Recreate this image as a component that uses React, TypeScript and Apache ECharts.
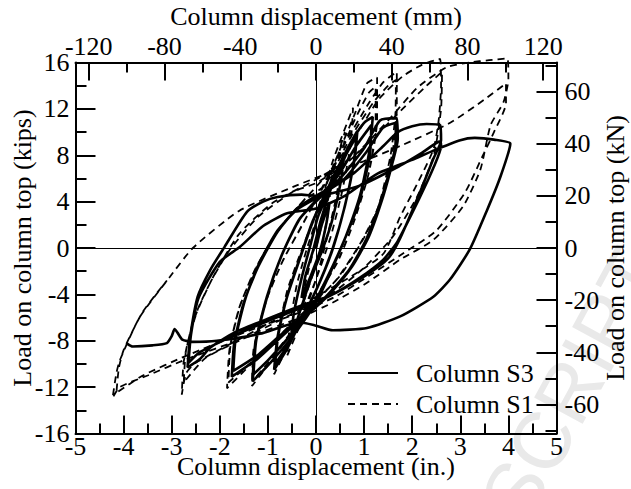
import React, { useEffect, useRef } from 'react';
import * as echarts from 'echarts';

// ---- axis definitions ----
const X_MIN_IN = -5;
const X_MAX_IN = 5;
const Y_MIN_KIP = -16;
const Y_MAX_KIP = 16;
const MM_PER_IN = 25.4;
const KN_PER_KIP = 4.448;
const TOP_MM_TICKS = [-120, -80, -40, 0, 40, 80, 120];
const TOP_MM_MINOR = [-100, -60, -20, 20, 60, 100];
const RIGHT_KN_TICKS = [-60, -40, -20, 0, 20, 40, 60];
const RIGHT_KN_MINOR = [-70, -50, -30, -10, 10, 30, 50, 70];

// ---- Column S3 (solid) : [displacement in., load kips] ----
const S3_CYCLE_1 = [[0, 0], [0.12, 2.0], [0.28, 3.9], [0.22, 2.2], [0.08, -0.3], [-0.1, -2.3], [-0.3, -4.3], [-0.22, -2.4], [-0.06, -0.2]];
const S3_CYCLE_2 = [[0.1, 2.4], [0.35, 5.6], [0.58, 8.1], [0.52, 5.8], [0.33, 2.3], [0.12, -0.3], [-0.12, -2.8], [-0.32, -5.3], [-0.52, -7.8], [-0.46, -5.6], [-0.3, -2.6], [-0.12, 0.2]];
const S3_CYCLE_3 = [[0.05, 2.8], [0.35, 5.6], [0.62, 8.3], [0.86, 10.1], [0.8, 7.6], [0.6, 3.6], [0.35, 0], [0.05, -3.2], [-0.3, -6.2], [-0.6, -8.7], [-0.87, -10.5], [-0.8, -7.7], [-0.6, -4.2], [-0.35, -1.1], [-0.1, 1.9], [0.1, 3.9]];
const S3_CYCLE_3B = [[0.35, 5.4], [0.62, 8.0], [0.84, 9.6], [0.78, 7.2], [0.58, 3.3], [0.33, -0.3], [0.03, -3.4], [-0.32, -6.3], [-0.62, -8.6], [-0.85, -10.0], [-0.78, -7.4], [-0.58, -3.9], [-0.33, -0.8], [-0.08, 2.2], [0.12, 4.0]];
const S3_CYCLE_4 = [[0.4, 6.5], [0.8, 9.6], [1.0, 10.8], [1.18, 11.3], [1.12, 8.6], [0.92, 4.6], [0.62, 1.0], [0.3, -2.1], [0, -4.7], [-0.5, -7.7], [-0.95, -9.9], [-1.32, -11.5], [-1.26, -8.2], [-1.02, -4.2], [-0.72, -0.7], [-0.36, 2.4], [0, 4.1]];
const S3_CYCLE_4B = [[0.45, 6.2], [0.85, 8.9], [1.15, 10.6], [1.12, 8.0], [0.9, 4.0], [0.58, 0.6], [0.25, -2.4], [-0.05, -4.8], [-0.55, -7.6], [-0.98, -9.6], [-1.3, -10.9], [-1.24, -7.9], [-1.0, -4.0], [-0.7, -0.5], [-0.34, 2.5], [0, 4.0]];
const S3_CYCLE_5 = [[0.5, 6.0], [1.0, 8.6], [1.33, 11.0], [1.68, 11.2], [1.7, 9.4], [1.6, 7.5], [1.4, 4.5], [1.1, 1.0], [0.75, -1.6], [0.3, -3.9], [0, -5.1], [-0.6, -7.2], [-1.2, -9.5], [-1.75, -11.1], [-1.7, -8.2], [-1.5, -4.7], [-1.2, -1.6], [-0.8, 1.4], [-0.4, 3.4], [0, 4.5]];
const S3_CYCLE_5B = [[0.55, 5.8], [1.05, 8.3], [1.4, 10.4], [1.66, 10.8], [1.65, 8.8], [1.5, 6.2], [1.3, 3.5], [1.05, 0.8], [0.7, -1.8], [0.25, -4.0], [0, -5.0], [-0.6, -7.0], [-1.2, -9.2], [-1.72, -10.6], [-1.67, -7.8], [-1.47, -4.4], [-1.18, -1.3], [-0.8, 1.5], [-0.4, 3.3], [0, 4.3]];
const S3_CYCLE_6 = [[0.8, 6.5], [1.4, 8.8], [1.7, 10.0], [2.0, 10.5], [2.3, 10.7], [2.58, 10.6], [2.6, 9.3], [2.44, 7.7], [2.17, 4.9], [1.75, 0.85], [1.5, -0.9], [1.06, -2.3], [0.35, -4.0], [-0.33, -5.0], [-1.0, -6.1], [-1.7, -7.3], [-2.2, -8.6], [-2.42, -9.6], [-2.67, -10.3], [-2.62, -7.8], [-2.46, -4.2], [-2.2, -1.9], [-1.9, 0.1], [-1.44, 3.1], [-1.1, 4.0], [-0.8, 4.4], [-0.3, 4.6], [0, 4.5]];
const S3_CYCLE_6B = [[0.92, 5.4], [1.75, 7.1], [2.2, 8.2], [2.58, 9.2], [2.6, 8.8], [2.45, 7.0], [2.15, 4.3], [1.7, 0.6], [1.4, -1.0], [0.9, -2.6], [0.3, -4.1], [-0.33, -5.2], [-1.0, -6.3], [-1.73, -7.6], [-2.42, -9.0], [-2.65, -9.9], [-2.6, -7.5], [-2.44, -4.3], [-2.0, -1.2], [-1.58, 0.1], [-1.1, 1.9], [-0.6, 3.0], [0, 3.4]];
const S3_CYCLE_7 = [[0.6, 4.5], [1.27, 6.4], [2.0, 7.6], [2.44, 8.4], [3.0, 9.3], [3.3, 9.5], [3.7, 9.35], [4.04, 9.0], [3.83, 6.1], [3.56, 3.3], [3.2, -0.1], [2.79, -2.7], [2.44, -4.2], [1.75, -5.9], [1.06, -6.9], [0.35, -7.1], [0, -6.7], [-0.33, -6.4], [-1.17, -7.4], [-2.06, -8.0], [-2.56, -8.1], [-2.78, -7.9], [-2.88, -7.3], [-2.94, -7.0], [-3.0, -7.6], [-3.1, -8.2], [-3.4, -8.4], [-3.81, -8.5], [-3.94, -8.2]];

// ---- Column S1 (dashed) ----
const S1_CYCLE_1 = [[0, 0], [0.15, 2.5], [0.3, 5.0], [0.25, 3.0], [0.1, -0.2], [-0.1, -2.7], [-0.3, -5.2], [-0.2, -2.7], [-0.05, -0.2]];
const S1_CYCLE_2 = [[0.15, 3.0], [0.35, 6.5], [0.6, 10.0], [0.55, 7.5], [0.4, 4.0], [0.2, 0.4], [0, -2.7], [-0.3, -6.3], [-0.6, -9.3], [-0.55, -6.8], [-0.4, -3.2], [-0.2, -0.2]];
const S1_CYCLE_3 = [[0.05, 3.0], [0.35, 7.5], [0.77, 12.1], [0.72, 9.0], [0.55, 5.0], [0.3, 0.9], [0, -2.7], [-0.4, -6.8], [-0.87, -10.9], [-0.8, -7.8], [-0.6, -3.7], [-0.3, -0.2]];
const S1_CYCLE_4 = [[0, 3.0], [0.4, 7.5], [0.8, 11.5], [1.06, 14.2], [1.27, 14.7], [1.27, 11.0], [1.1, 6.5], [0.8, 2.4], [0.45, -1.2], [0, -4.2], [-0.6, -7.8], [-1.0, -10.1], [-1.33, -11.9], [-1.3, -8.8], [-1.05, -4.7], [-0.7, -1.2], [-0.3, 1.9]];
const S1_CYCLE_4B = [[0.4, 7.2], [0.8, 11.0], [1.1, 13.4], [1.24, 13.9], [1.24, 10.5], [1.08, 6.2], [0.78, 2.2], [0.42, -1.4], [0, -4.3], [-0.6, -7.7], [-1.0, -9.9], [-1.3, -11.4], [-1.28, -8.5], [-1.03, -4.5], [-0.68, -1.0], [-0.28, 2.0]];
const S1_CYCLE_5 = [[0.1, 5.0], [0.6, 9.0], [1.1, 12.5], [1.4, 14.3], [1.68, 15.2], [1.68, 12.0], [1.6, 8.5], [1.35, 4.0], [1.0, 0.9], [0.5, -2.4], [0, -4.5], [-0.7, -7.3], [-1.3, -9.8], [-1.85, -12.1], [-1.8, -8.8], [-1.6, -5.2], [-1.25, -1.7], [-0.8, 1.4], [-0.3, 3.9]];
const S1_CYCLE_5B = [[0.2, 5.5], [0.7, 9.4], [1.2, 12.6], [1.5, 14.0], [1.66, 14.5], [1.65, 11.5], [1.55, 8.0], [1.3, 3.6], [0.95, 0.6], [0.45, -2.6], [0, -4.6], [-0.7, -7.4], [-1.3, -9.7], [-1.82, -11.6], [-1.78, -8.5], [-1.58, -5.0], [-1.22, -1.5], [-0.78, 1.6], [-0.28, 4.0]];
const S1_CYCLE_6 = [[0.2, 6.2], [0.8, 9.5], [1.3, 12.8], [1.8, 14.8], [2.2, 15.8], [2.58, 16.3], [2.6, 14.0], [2.55, 11.0], [2.44, 8.5], [2.1, 5.5], [1.75, 2.7], [1.4, -0.5], [0.71, -2.5], [0, -4.2], [-0.8, -6.1], [-1.7, -8.1], [-2.5, -9.9], [-2.7, -10.8], [-2.79, -12.65], [-2.75, -9.8], [-2.55, -6.3], [-2.2, -3.0], [-1.8, -0.2], [-1.2, 2.7], [-0.5, 4.8], [0, 5.6]];
const S1_CYCLE_6B = [[0.6, 7.2], [1.2, 9.5], [1.8, 12.0], [2.3, 14.0], [2.62, 15.2], [2.6, 12.0], [2.45, 8.0], [2.1, 4.4], [1.6, 1.0], [1.0, -1.7], [0.3, -4.0], [-0.5, -5.7], [-1.5, -7.8], [-2.3, -9.5], [-2.75, -11.6], [-2.7, -8.8], [-2.45, -5.2], [-2.1, -2.2], [-1.6, 1.2], [-0.9, 3.9], [0, 5.9]];
const S1_CYCLE_7 = [[0.8, 8.0], [1.5, 11.0], [2.1, 13.8], [2.72, 15.6], [3.2, 16.0], [3.6, 16.2], [3.98, 16.35], [4.0, 14.6], [3.9, 12.6], [3.63, 10.6], [3.42, 6.8], [3.06, 3.6], [2.44, 0.7], [1.75, -1.0], [1.06, -3.0], [0.35, -4.7], [-0.33, -6.0], [-1.5, -7.8], [-2.7, -9.6], [-3.5, -11.0], [-4.08, -12.0], [-4.23, -12.95], [-4.15, -10.8], [-4.08, -9.7], [-3.67, -6.0], [-3.04, -2.5], [-2.56, 0], [-1.6, 3.2], [-0.4, 5.4], [0.29, 6.5], [1.0, 7.5], [1.75, 8.8], [2.79, 10.8], [3.5, 12.8], [3.95, 14.2]];
const S1_CYCLE_7B = [[3.95, 12.5], [3.7, 10.0], [3.46, 7.9], [3.1, 4.8], [2.5, 1.5], [1.8, -0.5], [1.1, -2.4], [0.4, -4.2], [-0.3, -5.5], [-1.5, -7.3], [-2.7, -9.3], [-3.6, -11.0], [-4.15, -12.5], [-4.1, -10.4], [-4.0, -8.8], [-3.6, -5.5], [-3.1, -2.8]];

const S3_DATA = [
  ...S3_CYCLE_1, ...S3_CYCLE_2, ...S3_CYCLE_3, ...S3_CYCLE_3B, ...S3_CYCLE_4, ...S3_CYCLE_4B,
  ...S3_CYCLE_5, ...S3_CYCLE_5B, ...S3_CYCLE_6, ...S3_CYCLE_6B, ...S3_CYCLE_7,
];
const S1_DATA = [
  ...S1_CYCLE_1, ...S1_CYCLE_2, ...S1_CYCLE_3, ...S1_CYCLE_4, ...S1_CYCLE_4B, ...S1_CYCLE_5, ...S1_CYCLE_5B,
  ...S1_CYCLE_6, ...S1_CYCLE_6B, ...S1_CYCLE_7, ...S1_CYCLE_7B,
];

const SERIF = 'Liberation Serif, serif';
const BLACK = '#000';
const FS = 26;

const GRID = { left: 75.5, right: 74.5, top: 62.5, bottom: 55.5, containLabel: false, outerBoundsMode: 'none' };

const lbl = (extra: any) => ({ fontSize: FS, fontFamily: SERIF, color: BLACK, ...extra });

export default function App() {
  const ref = useRef<HTMLDivElement>(null);
  useEffect(() => {
    if (!ref.current) return;
    const chart = echarts.init(ref.current, undefined, { renderer: 'svg' });
    const axLine = { show: true, onZero: false, lineStyle: { color: BLACK, width: 2 } };
    const noLine = { show: false, onZero: false };
    const tick = (len: number, custom?: number[]) => ({
      show: true, inside: true, length: len, lineStyle: { color: BLACK, width: 2 },
      ...(custom ? { customValues: custom } : {}),
    });
    const mmMax = X_MAX_IN * MM_PER_IN;
    const knMax = Y_MAX_KIP * KN_PER_KIP;
    const option: any = {
      animation: false,
      backgroundColor: '#fff',
      grid: [GRID, GRID, GRID],
      graphic: [
        {
          type: 'text', x: 642, y: 256, rotation: 1.075, z: -10, silent: true,
          style: {
            text: 'ACCEPTED MANUSCRIPT', fontSize: 80, fontFamily: 'Liberation Sans, sans-serif',
            fill: '#e9e9e9', align: 'right', verticalAlign: 'middle',
          },
        },
      ],
      legend: {
        orient: 'vertical', left: 342, top: 355, itemWidth: 50, itemHeight: 14, itemGap: 5,
        itemStyle: { opacity: 0, borderWidth: 0 },
        textStyle: lbl({ lineHeight: 26, padding: [0, 0, 0, 13] }),
        data: ['Column S3', 'Column S1'],
      },
      xAxis: [
        {
          gridIndex: 0, type: 'value', position: 'bottom', min: X_MIN_IN, max: X_MAX_IN, interval: 1,
          axisLine: axLine, axisTick: tick(18),
          minorTick: { show: true, splitNumber: 2, length: 10, lineStyle: { color: BLACK, width: 2 } },
          axisLabel: lbl({ margin: 4, lineHeight: 18, showMinLabel: true, showMaxLabel: true }),
          splitLine: { show: false }, minorSplitLine: { show: false },
          name: 'Column displacement (in.)', nameLocation: 'middle', nameGap: 24, nameMoveOverlap: false,
          nameTextStyle: lbl({ lineHeight: 18 }),
        },
        {
          gridIndex: 1, type: 'value', position: 'top', min: -mmMax, max: mmMax,
          axisLine: axLine, axisTick: tick(18, TOP_MM_TICKS),
          axisLabel: lbl({ margin: 3, customValues: TOP_MM_TICKS, showMinLabel: true, showMaxLabel: true }),
          splitLine: { show: false },
          name: 'Column displacement (mm)', nameLocation: 'middle', nameGap: 33, nameMoveOverlap: false,
          nameTextStyle: lbl({}),
        },
        {
          gridIndex: 2, type: 'value', position: 'top', min: -mmMax, max: mmMax,
          axisLine: noLine, axisTick: tick(10, TOP_MM_MINOR),
          axisLabel: { show: false }, splitLine: { show: false },
        },
      ],
      yAxis: [
        {
          gridIndex: 0, type: 'value', position: 'left', min: Y_MIN_KIP, max: Y_MAX_KIP, interval: 4,
          axisLine: axLine, axisTick: tick(20),
          minorTick: { show: true, splitNumber: 2, length: 11, lineStyle: { color: BLACK, width: 2 } },
          axisLabel: lbl({ margin: 6, showMinLabel: true, showMaxLabel: true }),
          splitLine: { show: false }, minorSplitLine: { show: false },
          name: 'Load on column top (kips)', nameLocation: 'middle', nameGap: 40, nameRotate: 90, nameMoveOverlap: false,
          nameTextStyle: lbl({}),
        },
        {
          gridIndex: 1, type: 'value', position: 'right', min: -knMax, max: knMax,
          axisLine: axLine, axisTick: tick(20, RIGHT_KN_TICKS),
          axisLabel: lbl({ margin: 8, customValues: RIGHT_KN_TICKS, showMinLabel: true, showMaxLabel: true }),
          splitLine: { show: false },
          name: 'Load on column top (kN)', nameLocation: 'middle', nameGap: 46, nameRotate: 90, nameMoveOverlap: false,
          nameTextStyle: lbl({}),
        },
        {
          gridIndex: 2, type: 'value', position: 'right', min: -knMax, max: knMax,
          axisLine: noLine, axisTick: tick(11, RIGHT_KN_MINOR),
          axisLabel: { show: false }, splitLine: { show: false },
        },
      ],
      series: [
        {
          name: 'Column S1', type: 'line', xAxisIndex: 0, yAxisIndex: 0, data: S1_DATA,
          symbol: 'none', showSymbol: false, smooth: 0.2, clip: false,
          lineStyle: { color: BLACK, width: 1.8, type: [7, 5] }, itemStyle: { color: BLACK },
          z: 3,
        },
        {
          name: 'Column S3', type: 'line', xAxisIndex: 0, yAxisIndex: 0, data: S3_DATA,
          symbol: 'none', showSymbol: false, smooth: 0.2,
          lineStyle: { color: BLACK, width: 2.6, type: 'solid' }, itemStyle: { color: BLACK },
          z: 4,
          markLine: {
            silent: true, symbol: ['none', 'none'], label: { show: false },
            lineStyle: { color: BLACK, width: 1, type: 'solid' },
            data: [{ xAxis: 0 }, { yAxis: 0 }],
          },
        },
      ],
    };
    chart.setOption(option);
    return () => chart.dispose();
  }, []);
  return <div ref={ref} style={{ position: 'fixed', left: 0, top: 0, width: 631, height: 489, background: '#fff' }} />;
}
